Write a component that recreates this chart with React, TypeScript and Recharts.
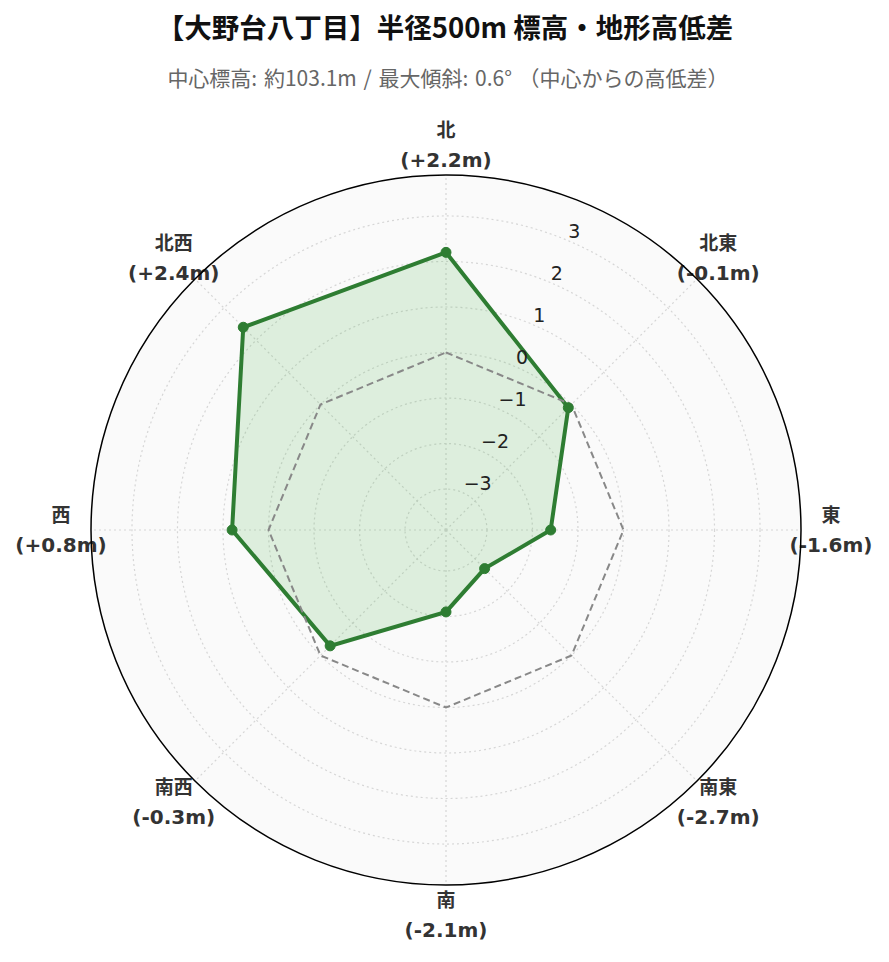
import React from 'react';
import { RadarChart, Radar, PolarGrid, PolarAngleAxis, PolarRadiusAxis } from 'recharts';

const directions = ['北', '北東', '東', '南東', '南', '南西', '西', '北西'];
const diffLabels = ['+2.2m', '-0.1m', '-1.6m', '-2.7m', '-2.1m', '-0.3m', '+0.8m', '+2.4m'];
const elevationDiff = [2.2, -0.1, -1.6, -2.7, -2.1, -0.3, 0.8, 2.4];
const zeroLine = [0, 0, 0, 0, 0, 0, 0, 0];
const radialTicks = [-3, -2, -1, 0, 1, 2, 3];
const radialDomain: [number, number] = [-3.9, 3.9];

const titleText = '【大野台八丁目】半径500m 標高・地形高低差';
const subtitleText = '中心標高: 約103.1m / 最大傾斜: 0.6° （中心からの高低差）';

const data = directions.map((d, i) => ({
  dir: d,
  label: diffLabels[i],
  value: elevationDiff[i],
  zero: zeroLine[i],
}));

const W = 889;
const H = 962;
const CX = 446;
const CY = 530;
const R = 355;
const LABEL_R = 385;
const FONT = "'DejaVu Sans', 'Noto Sans CJK JP', sans-serif";
const CJK_FONT = "'Noto Sans CJK JP', sans-serif";
const RAD = Math.PI / 180;

const RadiusTick = (props: any) => {
  const { x, y, payload } = props;
  const v = Number(payload.value);
  const txt = v < 0 ? '\u2212' + Math.abs(v) : String(v);
  return (
    <text x={x + 2} y={y - 9} textAnchor="start" dominantBaseline="central" fontSize={19} fill="#222" fontFamily={FONT}>
      {txt}
    </text>
  );
};

const AngleTick = (props: any) => {
  const { payload } = props;
  const idx = directions.indexOf(payload.value);
  const ang = payload.coordinate;
  const x = CX + LABEL_R * Math.cos(-ang * RAD);
  const y = CY + LABEL_R * Math.sin(-ang * RAD);
  return (
    <g>
      <text x={x} y={y - 15} textAnchor="middle" dominantBaseline="central" fontSize={19} fontWeight="bold" fill="#333" fontFamily={FONT}>
        {payload.value}
      </text>
      <text x={x} y={y + 15} textAnchor="middle" dominantBaseline="central" fontSize={20} fontWeight="bold" fill="#333" fontFamily={FONT}>
        {'(' + diffLabels[idx] + ')'}
      </text>
    </g>
  );
};

export default function App() {
  return (
    <div style={{ position: 'fixed', left: 0, top: 0, width: W, height: H, background: '#fff', fontFamily: FONT }}>
      <svg width={W} height={H} style={{ position: 'absolute', left: 0, top: 0 }}>
        <circle cx={CX} cy={CY} r={R} fill="#fafafa" stroke="none" />
      </svg>
      <div style={{ position: 'absolute', left: CX - 1, top: 27, transform: 'translate(-50%, -50%)', whiteSpace: 'nowrap', fontSize: 27.5, fontWeight: 'bold', color: '#111', fontFamily: CJK_FONT, lineHeight: 1 }}>
        {titleText}
      </div>
      <div style={{ position: 'absolute', left: CX + 2, top: 77, transform: 'translate(-50%, -50%)', whiteSpace: 'nowrap', fontSize: 21, wordSpacing: 2, color: '#666', fontFamily: CJK_FONT, lineHeight: 1 }}>
        {subtitleText}
      </div>
      <div style={{ position: 'absolute', left: 0, top: 0 }}>
        <RadarChart width={W} height={H} data={data} cx={CX} cy={CY} outerRadius={R} margin={{ top: 0, right: 0, bottom: 0, left: 0 }}>
          <PolarGrid gridType="circle" stroke="#d6d6d6" strokeDasharray="2 3" strokeWidth={1.2} />
          <PolarAngleAxis dataKey="dir" tick={<AngleTick />} axisLine={false} tickLine={false} />
          <PolarRadiusAxis
            type="number"
            scale="pow"
            angle={67.5}
            domain={radialDomain}
            ticks={radialTicks}
            allowDataOverflow
            axisLine={false}
            tickLine={false}
            tick={<RadiusTick />}
          />
          <Radar
            dataKey="value"
            stroke="#2e7d32"
            strokeWidth={4}
            fill="#4caf50"
            fillOpacity={0.17}
            dot={{ r: 5, fill: '#2e7d32', fillOpacity: 1, stroke: '#2e7d32', strokeWidth: 1 }}
            isAnimationActive={false}
          />
          <Radar
            dataKey="zero"
            stroke="#888"
            strokeWidth={2}
            strokeDasharray="7 4"
            fill="none"
            fillOpacity={0}
            dot={false}
            isAnimationActive={false}
          />
        </RadarChart>
      </div>
      <svg width={W} height={H} style={{ position: 'absolute', left: 0, top: 0, pointerEvents: 'none' }}>
        <circle cx={CX} cy={CY} r={R} fill="none" stroke="#000" strokeWidth={1.5} />
      </svg>
    </div>
  );
}
